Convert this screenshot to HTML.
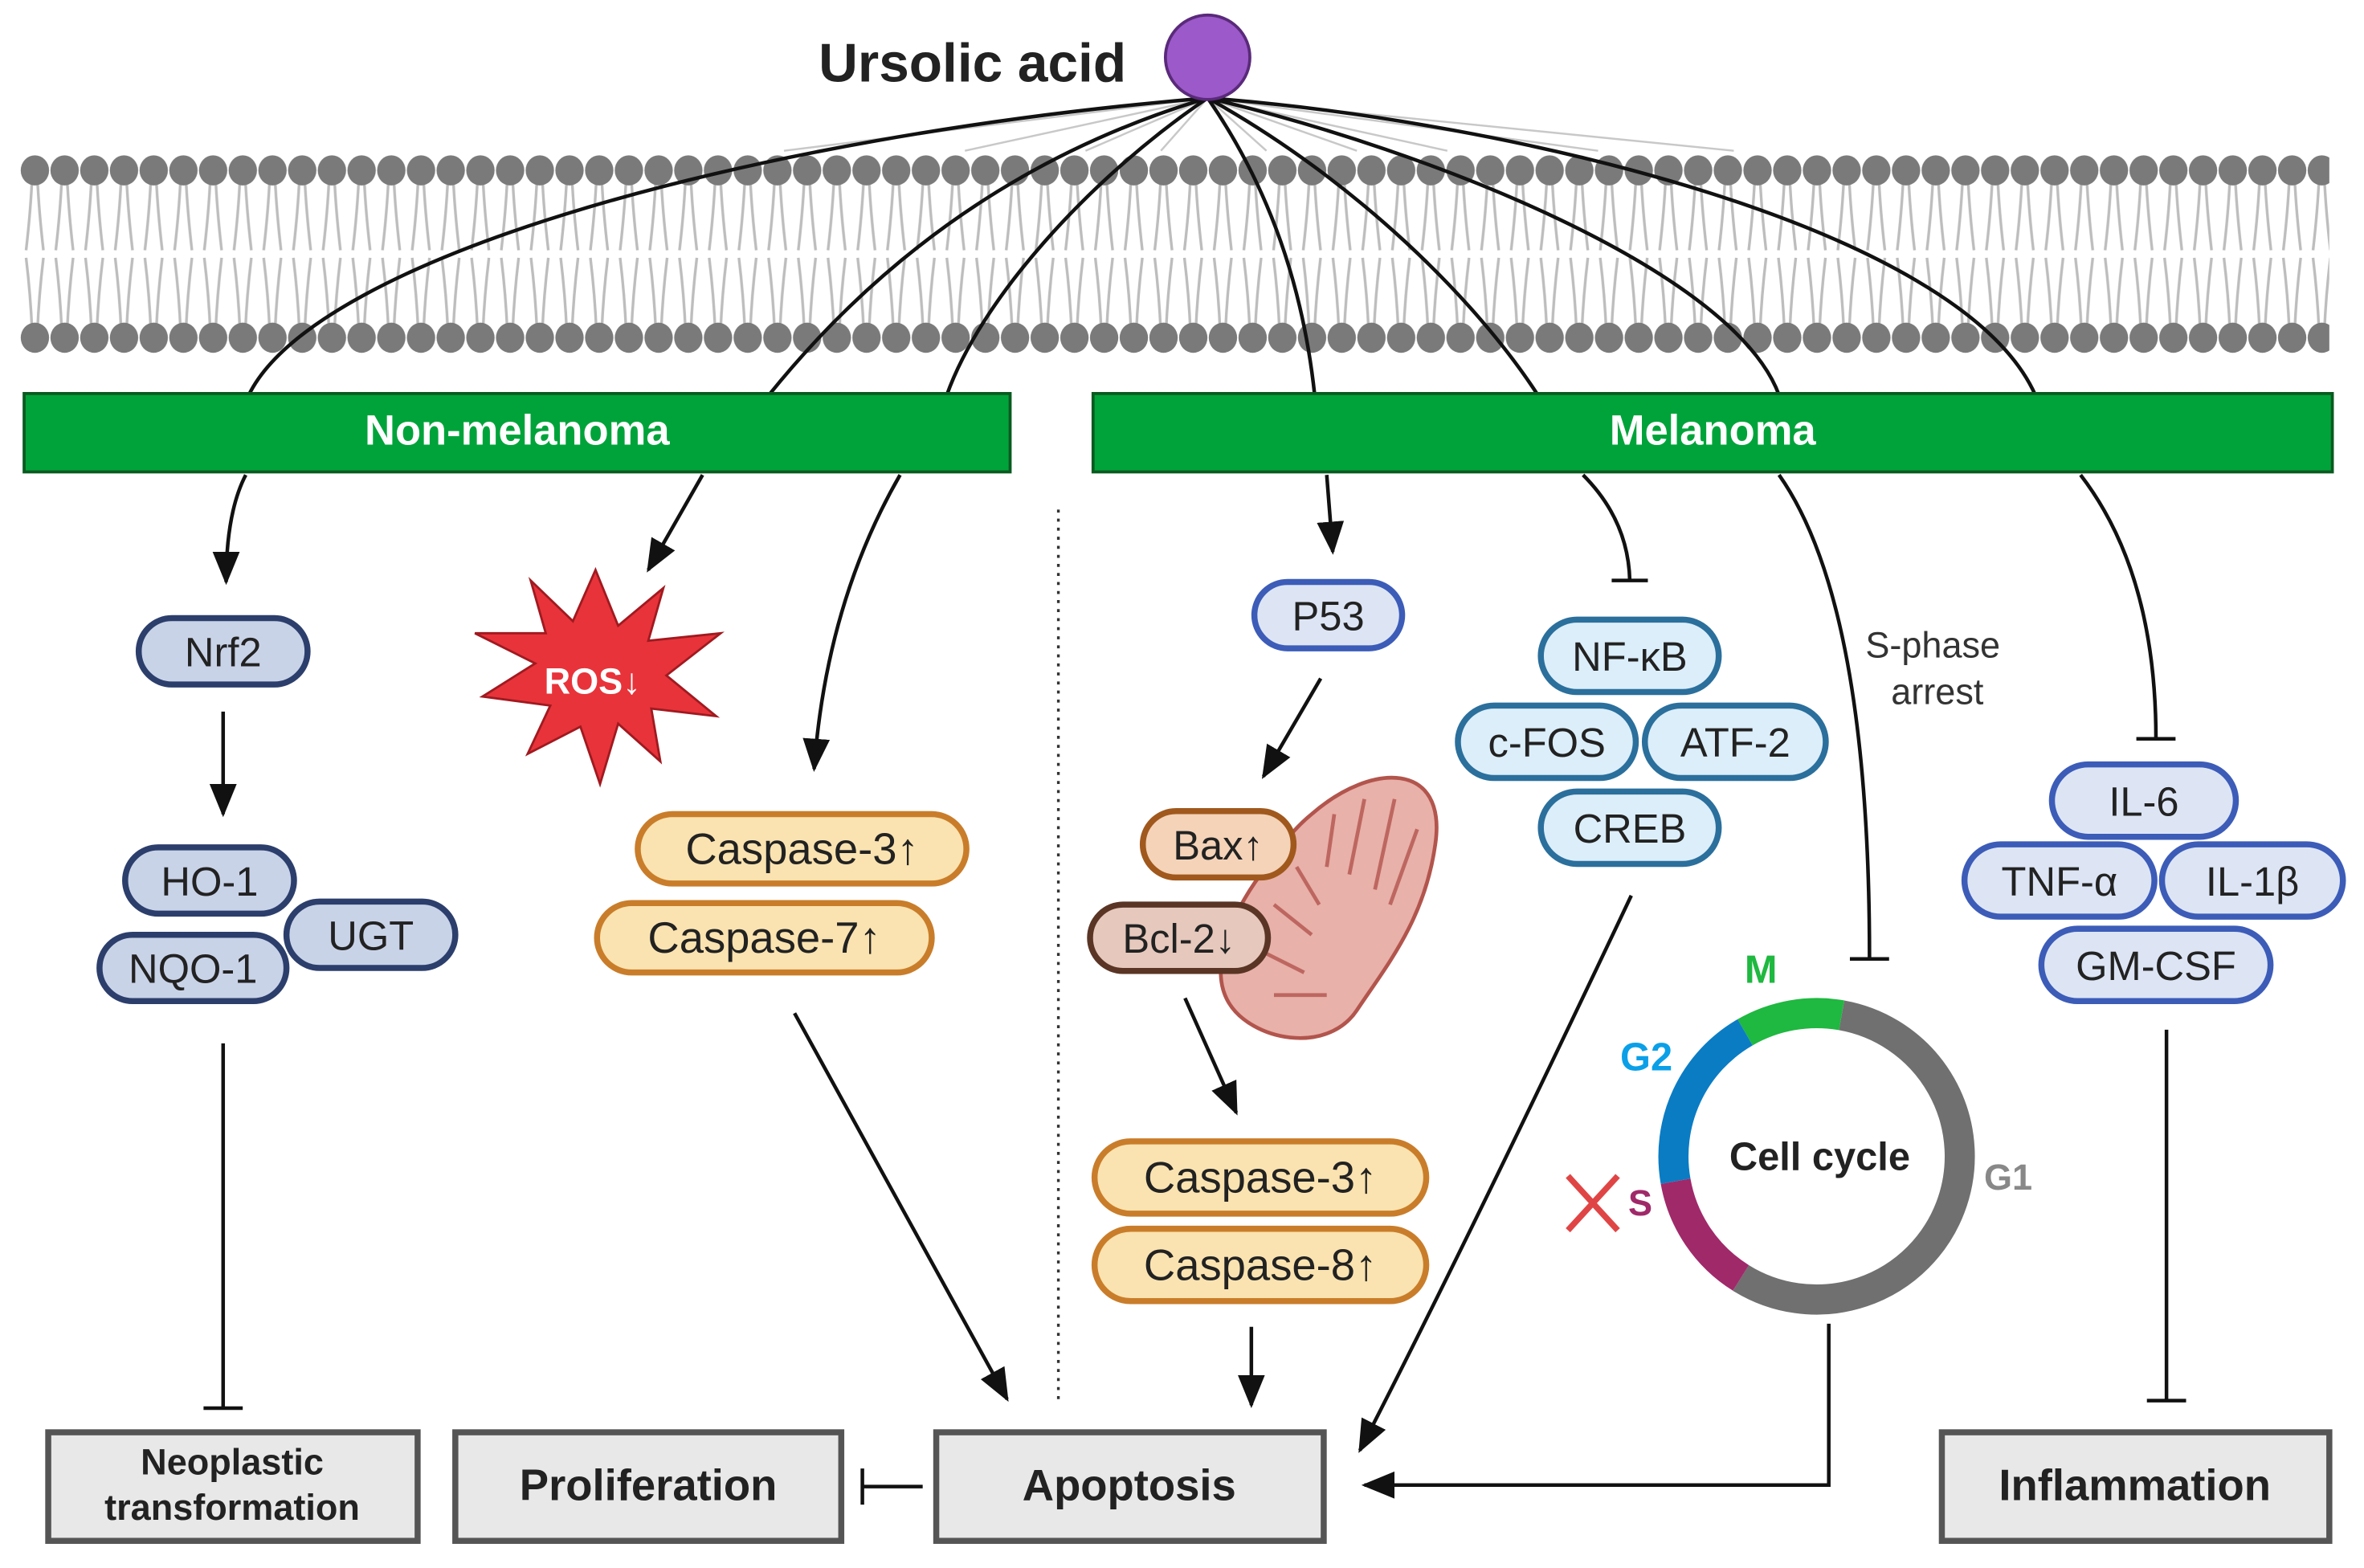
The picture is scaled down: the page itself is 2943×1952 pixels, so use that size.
<!DOCTYPE html>
<html><head><meta charset="utf-8"><style>
html,body{margin:0;padding:0;background:#fff;}
svg{display:block;}
text{font-family:"Liberation Sans",sans-serif;}
</style></head><body>
<svg width="2943" height="1952" viewBox="0 0 1568 1040" xmlns="http://www.w3.org/2000/svg">
<defs>
<pattern id="mem" x="13.3" y="0" width="19.7" height="1040" patternUnits="userSpaceOnUse">
<g stroke="#bdbdbd" stroke-width="1.8" fill="none">
<path d="M8,118 Q7,140 4,166"/><path d="M11.5,118 Q12.5,140 15.5,166"/>
<path d="M4,171 Q7,196 8,220"/><path d="M15.5,171 Q12.5,196 11.5,220"/>
</g>
<ellipse cx="9.85" cy="113" rx="9.4" ry="10" fill="#7a7a7a"/>
<ellipse cx="9.85" cy="224" rx="9.4" ry="10" fill="#7a7a7a"/>
</pattern>
<marker id="ar" markerWidth="10" markerHeight="10" refX="8" refY="5" orient="auto" markerUnits="userSpaceOnUse" viewBox="0 0 10 10">
<path d="M0,0 L10,5 L0,10 z" fill="#111"/></marker>
<marker id="ah" markerWidth="22" markerHeight="22" refX="20" refY="11" orient="auto" markerUnits="userSpaceOnUse">
<path d="M0,2 L22,11 L0,20 z" fill="#111"/></marker>
</defs>
<rect x="13" y="100" width="1532" height="140" fill="url(#mem)"/>

<!-- faint rays -->
<g stroke="#c8c8c8" stroke-width="1.3">
<line x1="801" y1="65" x2="520" y2="100"/><line x1="801" y1="65" x2="640" y2="100"/>
<line x1="801" y1="65" x2="720" y2="100"/><line x1="801" y1="65" x2="770" y2="100"/>
<line x1="801" y1="65" x2="840" y2="100"/><line x1="801" y1="65" x2="900" y2="100"/>
<line x1="801" y1="65" x2="960" y2="100"/><line x1="801" y1="65" x2="1060" y2="100"/>
<line x1="801" y1="65" x2="1150" y2="100"/>
</g>
<!-- curves through membrane -->
<g fill="none" stroke="#111" stroke-width="2.4">
<path d="M801,65 C500,90 210,170 165,262"/>
<path d="M801,65 C650,110 560,200 510,262"/>
<path d="M801,65 C720,120 650,200 628,262"/>
<path d="M801,65 Q860,150 872,262"/>
<path d="M801,65 C900,120 980,200 1020,262"/>
<path d="M801,65 C950,100 1150,180 1180,262"/>
<path d="M801,65 C1000,80 1300,150 1350,262"/>
</g>
<text x="543" y="54" font-size="36" font-weight="bold" fill="#222">Ursolic acid</text>
<circle cx="801" cy="38" r="28" fill="#9b59c9" stroke="#5a2a7a" stroke-width="2"/>

<!-- bars -->
<rect x="16" y="261" width="654" height="52" fill="#00a33a" stroke="#0a5a20" stroke-width="2"/>
<text x="343" y="295" font-size="28" font-weight="bold" fill="#fff" text-anchor="middle">Non-melanoma</text>
<rect x="725" y="261" width="822" height="52" fill="#00a33a" stroke="#0a5a20" stroke-width="2"/>
<text x="1136" y="295" font-size="28" font-weight="bold" fill="#fff" text-anchor="middle">Melanoma</text>

<!-- below-bar connectors -->
<g fill="none" stroke="#111" stroke-width="2.4">
<path d="M163,315 Q150,340 150,386" marker-end="url(#ah)"/>
<path d="M466,315 L430,378" marker-end="url(#ah)"/>
<path d="M597,315 Q548,400 540,510" marker-end="url(#ah)"/>
<path d="M880,315 L884,366" marker-end="url(#ah)"/>
<path d="M1050,315 Q1080,345 1081,385"/><path d="M1069,385 H1093"/>
<path d="M1180,315 Q1240,400 1240,635"/><path d="M1227,636 H1253"/>
<path d="M1380,315 Q1430,380 1430,490"/><path d="M1417,490 H1443"/>
<path d="M148,472 L148,540" marker-end="url(#ah)"/>
<path d="M148,692 L148,933"/><path d="M135,934 H161"/>
<path d="M527,672 L668,928" marker-end="url(#ah)"/>
<path d="M876,450 L838,515" marker-end="url(#ah)"/>
<path d="M786,662 L820,738" marker-end="url(#ah)"/>
<path d="M830,880 L830,932" marker-end="url(#ah)"/>
<path d="M1082,594 Q975,820 902,962" marker-end="url(#ah)"/>
<path d="M1213,878 L1213,985 L905,985" marker-end="url(#ah)"/>
<path d="M1437,683 L1437,928"/><path d="M1424,929 H1450"/>
<path d="M612,986 H572"/><path d="M572,974 V998"/>
</g>
<line x1="702" y1="338" x2="702" y2="930" stroke="#333" stroke-width="1.8" stroke-dasharray="2,4"/>

<!-- nodes -->
<g font-size="27" text-anchor="middle" fill="#222">
<g stroke="#2c3e6b" stroke-width="4" fill="#c9d3e8">
<rect x="92" y="410" width="112" height="44" rx="22"/>
<rect x="83" y="562" width="112" height="44" rx="22"/>
<rect x="190" y="598" width="112" height="44" rx="22"/>
<rect x="66" y="620" width="124" height="44" rx="22"/>
</g>
<text x="148" y="442">Nrf2</text><text x="139" y="594">HO-1</text>
<text x="246" y="630">UGT</text><text x="128" y="652">NQO-1</text>

<g stroke="#c97d2a" stroke-width="4" fill="#fae3b0">
<rect x="423" y="540" width="218" height="46" rx="23"/>
<rect x="396" y="599" width="222" height="46" rx="23"/>
<rect x="726" y="757" width="220" height="48" rx="24"/>
<rect x="726" y="815" width="220" height="48" rx="24"/>
</g>
<g font-size="29"><text x="532" y="573">Caspase-3↑</text><text x="507" y="632">Caspase-7↑</text>
<text x="836" y="791">Caspase-3↑</text><text x="836" y="849">Caspase-8↑</text></g>

<g stroke="#3c5cb8" stroke-width="4" fill="#dde5f5">
<rect x="832" y="386" width="98" height="44" rx="22"/>
<rect x="1361" y="507" width="122" height="48" rx="24"/>
<rect x="1303" y="560" width="126" height="48" rx="24"/>
<rect x="1434" y="560" width="120" height="48" rx="24"/>
<rect x="1354" y="616" width="152" height="48" rx="24"/>
</g>
<text x="881" y="418">P53</text><text x="1422" y="541">IL-6</text>
<text x="1366" y="594">TNF-α</text><text x="1494" y="594">IL-1β</text><text x="1430" y="650">GM-CSF</text>

<g stroke="#2b6f9c" stroke-width="4" fill="#dceefa">
<rect x="1022" y="411" width="118" height="48" rx="24"/>
<rect x="967" y="468" width="118" height="48" rx="24"/>
<rect x="1091" y="468" width="120" height="48" rx="24"/>
<rect x="1022" y="525" width="118" height="48" rx="24"/>
</g>
<text x="1081" y="445">NF-κB</text><text x="1026" y="502">c-FOS</text>
<text x="1151" y="502">ATF-2</text><text x="1081" y="559">CREB</text>
</g>

<!-- mitochondrion -->
<path d="M870,540 C910,505 960,505 952,560 C945,610 920,640 900,670 C880,700 830,690 815,665 C800,640 820,600 840,575 C850,560 860,548 870,540 z" fill="#e8b1aa" stroke="#b2554d" stroke-width="2.5"/>
<g fill="none" stroke="#b2554d" stroke-width="2.5" opacity="0.8">
<path d="M885,540 L880,575 M905,530 L895,580 M925,530 L912,590 M940,550 L922,600 M860,575 L875,600 M845,600 L870,620 M835,630 L865,645 M845,660 L880,660"/>
</g>
<g stroke-width="4" font-size="27" text-anchor="middle" fill="#222">
<rect x="758" y="538" width="100" height="44" rx="22" fill="#f4d3b8" stroke="#a0581d"/>
<rect x="723" y="600" width="118" height="44" rx="22" fill="#e6c8bc" stroke="#5a3525"/>
<text x="808" y="570" stroke="none">Bax↑</text><text x="782" y="632" stroke="none">Bcl-2↓</text>
</g>

<!-- ROS -->
<polygon points="395,378 410,415 440,390 430,425 478,420 442,448 475,475 432,470 438,505 410,480 398,520 385,482 350,500 365,468 320,462 355,440 315,420 362,420 352,385 380,412" fill="#e8333a" stroke="#a01a20" stroke-width="1.5"/>
<text x="393" y="460" font-size="24" font-weight="bold" fill="#fff" text-anchor="middle">ROS↓</text>

<!-- cell cycle -->
<g fill="none" stroke-width="20">
<path d="M1221.5,673.4 A95,95 0 1 1 1154.7,847.6" stroke="#707070"/>
<path d="M1157.5,684.7 A95,95 0 0 1 1221.5,673.4" stroke="#1fb840"/>
<path d="M1111.4,783.5 A95,95 0 0 1 1157.5,684.7" stroke="#0a7cc4"/>
<path d="M1154.7,847.6 A95,95 0 0 1 1111.4,783.5" stroke="#a0296a"/>
</g>
<text x="1207" y="776" font-size="26" font-weight="bold" fill="#222" text-anchor="middle">Cell cycle</text>
<text x="1168" y="652" font-size="26" font-weight="bold" fill="#1fb840" text-anchor="middle">M</text>
<text x="1092" y="710" font-size="26" font-weight="bold" fill="#0aa0e8" text-anchor="middle">G2</text>
<text x="1088" y="806" font-size="24" font-weight="bold" fill="#a0296a" text-anchor="middle">S</text>
<text x="1332" y="789" font-size="24" font-weight="bold" fill="#888" text-anchor="middle">G1</text>
<g stroke="#e04545" stroke-width="4"><line x1="1040" y1="780" x2="1073" y2="816"/><line x1="1073" y1="780" x2="1040" y2="816"/></g>
<text x="1282" y="436" font-size="24" fill="#333" text-anchor="middle">S-phase</text>
<text x="1285" y="467" font-size="24" fill="#333" text-anchor="middle">arrest</text>

<!-- outcome boxes -->
<g fill="#e8e8e8" stroke="#555" stroke-width="4">
<rect x="32" y="950" width="245" height="72"/>
<rect x="302" y="950" width="256" height="72"/>
<rect x="621" y="950" width="257" height="72"/>
<rect x="1288" y="950" width="257" height="72"/>
</g>
<g font-weight="bold" fill="#222" text-anchor="middle">
<text x="154" y="978" font-size="24">Neoplastic</text>
<text x="154" y="1008" font-size="24">transformation</text>
<text x="430" y="995" font-size="29">Proliferation</text>
<text x="749" y="995" font-size="29">Apoptosis</text>
<text x="1416" y="995" font-size="29">Inflammation</text>
</g>
</svg>
</body></html>
